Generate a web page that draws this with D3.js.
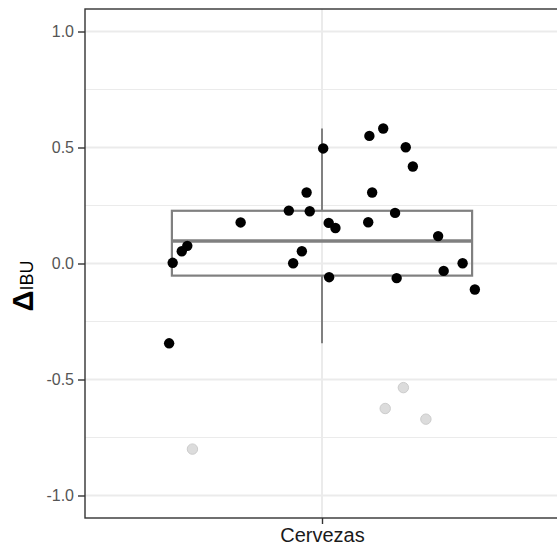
<!DOCTYPE html>
<html>
<head>
<meta charset="utf-8">
<script src="https://cdn.jsdelivr.net/npm/d3@7"></script>
<style>
  body { margin: 0; background: #fff; }
  svg { display: block; font-family: "Liberation Sans", Arial, sans-serif; }
</style>
</head>
<body>
<div id="chart"></div>
<script>
// one category, values of delta IBU per beer, with horizontal jitter
var categories = ["Cervezas"];
var ibu = [0.496, 0.306, 0.228, 0.225, 0.177, 0.175, 0.153, 0.076, 0.053, 0.003,
           0.053, 0.001, -0.059, 0.55, 0.582, 0.501, 0.418, 0.306, 0.218, 0.178,
           0.118, 0.001, -0.032, -0.063, -0.112, -0.344,
           -0.80, -0.535, -0.625, -0.671];
var jitter = [0.003, -0.039, -0.084, -0.031, -0.206, 0.017, 0.034, -0.341, -0.355, -0.378,
              -0.051, -0.073, 0.018, 0.120, 0.155, 0.212, 0.230, 0.127, 0.185, 0.117,
              0.294, 0.356, 0.308, 0.189, 0.387, -0.387,
              -0.328, 0.206, 0.160, 0.263];
var yTicks = [-1, -0.5, 0, 0.5, 1];
var yMinor = [-0.75, -0.25, 0.25, 0.75];

var width = 557, height = 547;
var margin = { left: 85, top: 9, right: -2, bottom: 29 };

var svg = d3.select("#chart").append("svg")
    .attr("width", width)
    .attr("height", height);

var x = d3.scaleLinear()
    .domain([0.4, 1.6])
    .range([margin.left, width - margin.right]);

var y = d3.scaleLinear()
    .domain([-1.097, 1.097])
    .range([height - margin.bottom, margin.top]);

// boxplot stats, same as ggplot (quantile type 7, 1.5 IQR whiskers)
var sorted = ibu.slice().sort(d3.ascending);
var q1 = d3.quantile(sorted, 0.25),
    med = d3.quantile(sorted, 0.5),
    q3 = d3.quantile(sorted, 0.75);
var iqr = q3 - q1;
var loFence = q1 - 1.5 * iqr, hiFence = q3 + 1.5 * iqr;
var inside = sorted.filter(v => v >= loFence && v <= hiFence);
var wLo = d3.min(inside), wHi = d3.max(inside);

var points = ibu.map((v, i) => ({ v: v, dx: jitter[i], out: v < loFence || v > hiFence }));

// grid
svg.append("g").selectAll("line")
    .data(yMinor).enter().append("line")
    .attr("x1", margin.left).attr("x2", width - margin.right)
    .attr("y1", d => y(d)).attr("y2", d => y(d))
    .attr("stroke", "#ebebeb").attr("stroke-width", 1.1);

svg.append("g").selectAll("line")
    .data(yTicks).enter().append("line")
    .attr("x1", margin.left).attr("x2", width - margin.right)
    .attr("y1", d => y(d)).attr("y2", d => y(d))
    .attr("stroke", "#ebebeb").attr("stroke-width", 2);

svg.append("g").selectAll("line")
    .data(categories).enter().append("line")
    .attr("x1", (d, i) => x(i + 1)).attr("x2", (d, i) => x(i + 1))
    .attr("y1", margin.top).attr("y2", height - margin.bottom)
    .attr("stroke", "#ebebeb").attr("stroke-width", 2);

// boxplot
var bw = 0.76;
var box = svg.append("g").attr("stroke", "#808080").attr("fill", "none");
box.append("line")
    .attr("x1", x(1)).attr("x2", x(1))
    .attr("y1", y(q3)).attr("y2", y(wHi))
    .attr("stroke-width", 2);
box.append("line")
    .attr("x1", x(1)).attr("x2", x(1))
    .attr("y1", y(q1)).attr("y2", y(wLo))
    .attr("stroke-width", 2);
box.append("rect")
    .attr("x", x(1 - bw / 2)).attr("width", x(1 + bw / 2) - x(1 - bw / 2))
    .attr("y", y(q3)).attr("height", y(q1) - y(q3))
    .attr("stroke-width", 2.2);
box.append("line")
    .attr("x1", x(1 - bw / 2)).attr("x2", x(1 + bw / 2))
    .attr("y1", y(med)).attr("y2", y(med))
    .attr("stroke-width", 3.4);

// jittered points
svg.append("g").selectAll("circle")
    .data(points).enter().append("circle")
    .attr("cx", d => x(1 + d.dx))
    .attr("cy", d => y(d.v))
    .attr("r", 5.2)
    .attr("fill", d => d.out ? "#dcdcdc" : "#000")
    .attr("stroke", d => d.out ? "#cccccc" : "none")
    .attr("stroke-width", 1);

// panel border
svg.append("rect")
    .attr("x", margin.left).attr("y", margin.top)
    .attr("width", width - margin.right - margin.left)
    .attr("height", height - margin.bottom - margin.top)
    .attr("fill", "none").attr("stroke", "#333").attr("stroke-width", 1.4);

// axes
var yAxis = svg.append("g")
    .attr("transform", "translate(" + margin.left + ",0)")
    .call(d3.axisLeft(y).tickValues(yTicks).tickFormat(d3.format(".1f")).tickSize(7).tickPadding(4));
yAxis.select(".domain").remove();
yAxis.selectAll("line").attr("stroke", "#333").attr("stroke-width", 1.4);
yAxis.selectAll("text").attr("fill", "#555").style("font-size", "16px")
    .text(d => d < 0 ? "-" + d3.format(".1f")(-d) : d3.format(".1f")(d));

var xAxis = svg.append("g")
    .attr("transform", "translate(0," + (height - margin.bottom) + ")")
    .call(d3.axisBottom(x).tickValues(categories.map((c, i) => i + 1))
        .tickFormat((d, i) => categories[i]).tickSize(6).tickPadding(4));
xAxis.select(".domain").remove();
xAxis.selectAll("line").attr("stroke", "#333").attr("stroke-width", 1.4);
xAxis.selectAll("text").attr("fill", "#1a1a1a").style("font-size", "20px");

// y title
var title = svg.append("text")
    .attr("transform", "translate(33,286) rotate(-90)")
    .attr("text-anchor", "middle")
    .attr("fill", "#000");
title.append("tspan").attr("font-weight", "bold").style("font-size", "29px").text("Δ");
title.append("tspan").style("font-size", "18px").text("IBU");
</script>
</body>
</html>
